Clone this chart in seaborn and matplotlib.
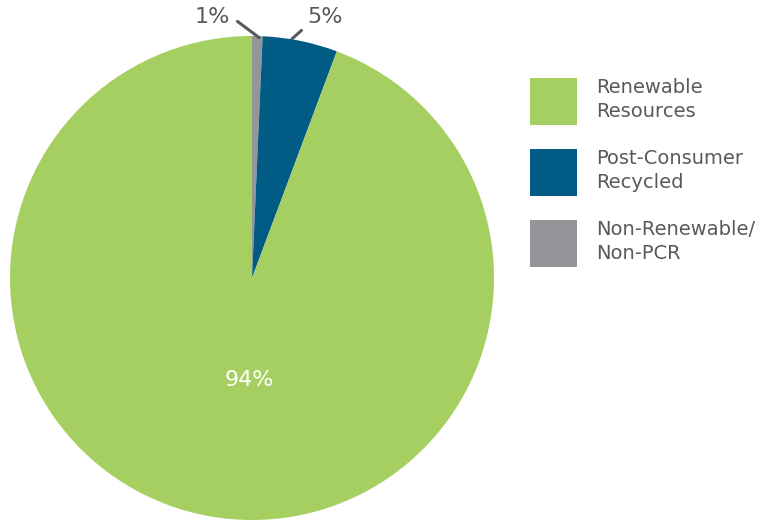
import numpy as np
import seaborn as sns
import matplotlib.pyplot as plt
from matplotlib.patches import Patch

sns.set_theme(style="white")
plt.rcParams['font.family'] = ['DejaVu Sans']

# data (clockwise from 12 o'clock)
categories = ["Non-Renewable/\nNon-PCR", "Post-Consumer\nRecycled", "Renewable\nResources"]
shares = [0.7, 5.0, 94.3]
pct_labels = ["1%", "5%", "94%"]
colors = ["#939598", "#005B85", "#A5CF61"]
legend_order = [2, 1, 0]

text_col = "#58595B"

fig = plt.figure(figsize=(7.8, 5.22), dpi=100)
ax = fig.add_axes([10 / 780, 2 / 522, 484 / 780, 484 / 522])

wedges, _ = ax.pie(shares, colors=colors, startangle=90, counterclock=False,
                   radius=1, wedgeprops=dict(linewidth=0))
ax.set_xlim(-1, 1)
ax.set_ylim(-1, 1)
ax.set_aspect("equal")
ax.axis("off")

# small slices get outside labels with leader lines
ax.annotate(pct_labels[0], xy=(0.03, 0.993), xytext=(-0.165, 1.08),
            ha="center", va="center", fontsize=16, color=text_col,
            arrowprops=dict(arrowstyle="-", color=text_col, lw=2.2,
                            relpos=(1, 0.55), shrinkA=4, shrinkB=0))
ax.annotate(pct_labels[1], xy=(0.165, 0.988), xytext=(0.30, 1.08),
            ha="center", va="center", fontsize=16, color=text_col,
            arrowprops=dict(arrowstyle="-", color=text_col, lw=2.2,
                            relpos=(0, 0.05), shrinkA=2, shrinkB=0))
ax.text(-0.01, -0.42, pct_labels[2], ha="center", va="center",
        fontsize=16, color="white")

handles = [Patch(facecolor=colors[i], edgecolor="none") for i in legend_order]
labels = [categories[i] for i in legend_order]
leg = fig.legend(handles, labels, loc="upper left",
                 bbox_to_anchor=(530 / 780, 1 - 78 / 522), frameon=False,
                 fontsize=14, labelcolor=text_col, borderpad=0, borderaxespad=0,
                 handlelength=2.42, handleheight=3.36, handletextpad=1.0,
                 labelspacing=1.22)
for t in leg.get_texts():
    t.set_linespacing(1.35)

fig.savefig("out.png", dpi=100)
